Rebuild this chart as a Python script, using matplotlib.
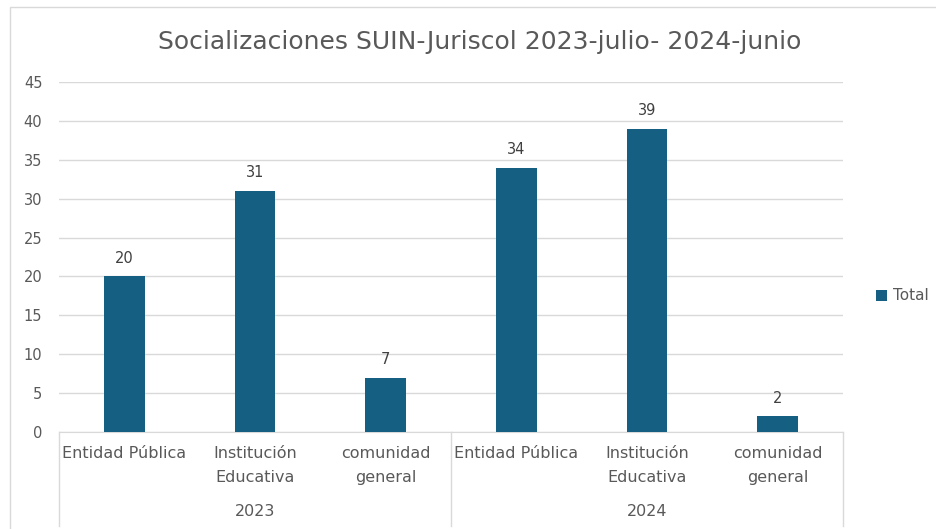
import numpy as np
import matplotlib.pyplot as plt
import matplotlib.transforms as mtransforms
from matplotlib.lines import Line2D
from matplotlib.patches import Rectangle

years = ['2023', '2024']
categories = ['Entidad Pública', 'Institución\nEducativa', 'comunidad\ngeneral',
              'Entidad Pública', 'Institución\nEducativa', 'comunidad\ngeneral']
totals = [20, 31, 7, 34, 39, 2]
yticks = [0, 5, 10, 15, 20, 25, 30, 35, 40, 45]

plt.rcParams['font.family'] = ['DejaVu Sans']
W, H = 936, 529
fig = plt.figure(figsize=(W / 100, H / 100), dpi=100)
fig.patch.set_facecolor('white')

# outer chart border
fig.add_artist(Rectangle((10 / W, -0.1), 1.2, 1 - 7 / H + 0.1, transform=fig.transFigure,
                         fill=False, edgecolor='#d9d9d9', lw=1))

ax = fig.add_axes([59 / W, (H - 432) / H, 784 / W, 350 / H])
x = np.arange(len(totals))
bars = ax.bar(x, totals, width=0.31, color='#156082', label='Total', zorder=3)
ax.set_xlim(-0.5, len(totals) - 0.5)
ax.set_ylim(0, 45)
ax.set_yticks(yticks)
ax.yaxis.grid(True, color='#d9d9d9', lw=1, zorder=0)
for s in ['top', 'right', 'left']:
    ax.spines[s].set_visible(False)
ax.spines['bottom'].set_color('#d9d9d9')
ax.tick_params(axis='y', length=0, labelsize=10.5, labelcolor='#595959', pad=12)
ax.tick_params(axis='x', length=0)
ax.set_xticks([])

for xi, v in zip(x, totals):
    ax.text(xi, v + 1.4, str(v), ha='center', va='bottom', fontsize=10.5,
            color='#404040')

tr = mtransforms.blended_transform_factory(ax.transData, fig.transFigure)
for xi, c in zip(x, categories):
    ax.text(xi, 1 - 446 / H, c, ha='center', va='top', fontsize=11.5, color='#595959',
            transform=tr, linespacing=1.75)
for i, yr in enumerate(years):
    ax.text(3 * i + 1, 1 - 512 / H, yr, ha='center', va='center', fontsize=11.5,
            color='#595959', transform=tr)
for xs in [-0.5, 2.5, 5.5]:
    ax.add_artist(Line2D([xs, xs], [1 - 432 / H, 1 - 526 / H], transform=tr,
                         color='#d9d9d9', lw=1, clip_on=False))

fig.text(480 / W, 1 - 42 / H, 'Socializaciones SUIN-Juriscol 2023-julio- 2024-junio',
         ha='center', va='center', fontsize=18, color='#595959')

fig.legend(handles=[bars], labels=['Total'], loc='center left',
           bbox_to_anchor=(862 / W, 1 - 296 / H), frameon=False,
           handlelength=0.75, handleheight=0.75, handletextpad=0.4,
           labelcolor='#595959', prop={'size': 11})

fig.savefig('out.png', dpi=100)
